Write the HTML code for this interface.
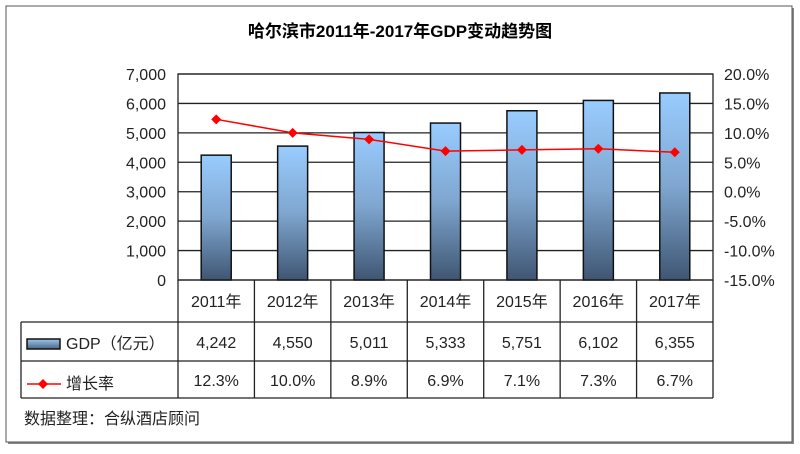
<!DOCTYPE html>
<html><head><meta charset="utf-8"><style>
body{margin:0;background:#fff;font-family:"Liberation Sans","Noto Sans CJK SC",sans-serif;}
svg text{font-family:"Liberation Sans","Noto Sans CJK SC",sans-serif;}
</style></head><body>
<svg id="c" width="800" height="449" xmlns="http://www.w3.org/2000/svg">
<defs>
<linearGradient id="bg" x1="0" y1="0" x2="0" y2="1"><stop offset="0" stop-color="#99ccff"/><stop offset="0.5" stop-color="#7fa6cf"/><stop offset="1" stop-color="#3f5673"/></linearGradient>
<linearGradient id="lg" x1="0" y1="0" x2="0" y2="1"><stop offset="0" stop-color="#9cc7ec"/><stop offset="1" stop-color="#4a6585"/></linearGradient>
</defs>
<rect x="8" y="8" width="786" height="436" fill="#888"/>
<rect x="6" y="6" width="786" height="436" fill="#fff" stroke="#555" stroke-width="1"/>
<text x="400" y="37" text-anchor="middle" font-size="17" font-weight="bold">哈尔滨市2011年-2017年GDP变动趋势图</text>
<g id="plot"></g>
<text x="24" y="424" font-size="16" fill="#222">数据整理：合纵酒店顾问</text>
</svg>
<script>
const categories=["2011年","2012年","2013年","2014年","2015年","2016年","2017年"];
const gdpValues=[4242,4550,5011,5333,5751,6102,6355];
const growthValues=[12.3,10.0,8.9,6.9,7.1,7.3,6.7];
const gdpLabels=["4,242","4,550","5,011","5,333","5,751","6,102","6,355"];
const growthLabels=["12.3%","10.0%","8.9%","6.9%","7.1%","7.3%","6.7%"];
const leftTicks=[0,1000,2000,3000,4000,5000,6000,7000];
const rightTicks=[-15,-10,-5,0,5,10,15,20];

const NS="http://www.w3.org/2000/svg";
const g=document.getElementById('plot');
const L=178,R=713,T=74,B=280;
const yL=v=>B-(v/7000)*(B-T);
const yR=v=>B-((v+15)/35)*(B-T);
const cw=(R-L)/categories.length;
const xC=i=>L+cw*(i+0.5);
function mk(tag,attrs,txt){const e=document.createElementNS(NS,tag);for(const k in attrs)e.setAttribute(k,attrs[k]);if(txt!==undefined)e.textContent=txt;g.appendChild(e);return e;}

leftTicks.forEach(v=>{
 if(v>0){const l=mk('line',{x1:L,x2:R,y1:yL(v),y2:yL(v),stroke:'#222','stroke-width':1.3});
 
 }
 const t=mk('text',{x:166,y:yL(v)+6,'text-anchor':'end','font-size':16,fill:'#222'},v.toLocaleString('en-US'));
 
 
});
rightTicks.forEach(v=>{
 const t=mk('text',{x:724,y:yR(v)+6,'font-size':16,fill:'#222'},v.toFixed(1)+'%');
 
 
});
const pa=mk('rect',{x:L,y:T,width:R-L,height:B-T,fill:'none',stroke:'#222','stroke-width':1.3});



gdpValues.forEach((v,i)=>{
 const b=mk('rect',{x:xC(i)-15,y:yL(v),width:30,height:B-yL(v),fill:'url(#bg)',stroke:'#111','stroke-width':1.5});
 
 
});
const pts=growthValues.map((v,i)=>xC(i)+','+yR(v)).join(' ');
const pl=mk('polyline',{points:pts,fill:'none',stroke:'#ff0000','stroke-width':1.5});


growthValues.forEach((v,i)=>{
 const x=xC(i),y=yR(v);
 const d=mk('polygon',{points:`${x},${y-5} ${x+5},${y} ${x},${y+5} ${x-5},${y}`,fill:'#ff0000'});
 
 
});

const rows=[280,322,361,398];
const hl=(x1,x2,y)=>{const l=mk('line',{x1,x2,y1:y,y2:y,stroke:'#222','stroke-width':1.3});};
const vl=(x,y1,y2)=>{const l=mk('line',{x1:x,x2:x,y1,y2,stroke:'#222','stroke-width':1.3});};
hl(L,R,rows[0]);hl(21,R,rows[1]);hl(21,R,rows[2]);hl(21,R,rows[3]);
vl(21,rows[1],rows[3]);
for(let i=0;i<=categories.length;i++)vl(L+cw*i,rows[0],rows[3]);
categories.forEach((c,i)=>{
 const t=mk('text',{x:xC(i),y:307,'text-anchor':'middle','font-size':16,fill:'#222'},c);
 
 
 const a=mk('text',{x:xC(i),y:348,'text-anchor':'middle','font-size':16,fill:'#222'},gdpLabels[i]);
 
 
 const b=mk('text',{x:xC(i),y:386,'text-anchor':'middle','font-size':16,fill:'#222'},growthLabels[i]);
 
 
});
const k1=mk('rect',{x:27,y:339,width:33,height:10,fill:'url(#lg)',stroke:'#111','stroke-width':1.5});


const t1=mk('text',{x:66,y:349,'font-size':16,fill:'#222'},'GDP（亿元）');


const k2=mk('line',{x1:27,x2:61,y1:384,y2:384,stroke:'#ff0000','stroke-width':1.5});


const k3=mk('polygon',{points:'43,379 48,384 43,389 38,384',fill:'#ff0000'});


const t2=mk('text',{x:66,y:389,'font-size':16,fill:'#222'},'增长率');


</script>
</body></html>
